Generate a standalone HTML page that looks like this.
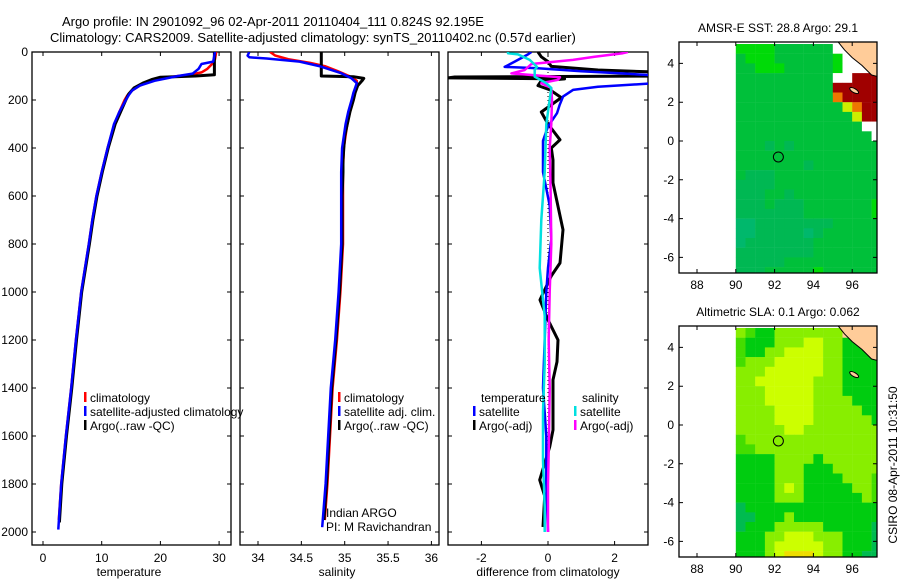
<!DOCTYPE html>
<html><head><meta charset="utf-8"><title>Argo profile</title>
<style>
html,body{margin:0;padding:0;background:#fff;}
svg{display:block;font-family:"Liberation Sans",Arial,sans-serif;}
text{font-size:12px;fill:#000;}
</style></head>
<body>
<svg id="chart" width="900" height="580" viewBox="0 0 900 580" xmlns="http://www.w3.org/2000/svg">
<defs>
<clipPath id="cp1"><rect x="32" y="52" width="199" height="493"/></clipPath>
<clipPath id="cp2"><rect x="240" y="52" width="199" height="493"/></clipPath>
<clipPath id="cp3"><rect x="448" y="52" width="200" height="493"/></clipPath>
<clipPath id="cm1"><rect x="679" y="42" width="198" height="231"/></clipPath>
<clipPath id="cm2"><rect x="679" y="326" width="198" height="231"/></clipPath>
</defs>
<text x="62" y="26" style="font-size:13px">Argo profile: IN 2901092_96 02-Apr-2011 20110404_111 0.824S 92.195E</text>
<text x="50" y="42" style="font-size:13px">Climatology: CARS2009. Satellite-adjusted climatology: synTS_20110402.nc (0.57d earlier)</text>
<text x="778" y="32" text-anchor="middle">AMSR-E SST: 28.8 Argo: 29.1</text>
<text x="778" y="316" text-anchor="middle">Altimetric SLA: 0.1 Argo: 0.062</text>
<text transform="translate(897,465) rotate(-90)" text-anchor="middle">CSIRO 08-Apr-2011 10:31:50</text>
<g id="g"></g>
</svg>
<script>
// ---------- data ----------
const depthTicks = [0,200,400,600,800,1000,1200,1400,1600,1800,2000];
const tempTicks = [0,10,20,30];
const salTicks = [34,34.5,35,35.5,36];
const diffTicks = [-2,0,2];
const lonTicks = [88,90,92,94,96];
const latTicks = [-6,-4,-2,0,2,4];

const climTDepth = [0,30,50,70,85,95,100,110,120,140,160,180,200,250,300,400,500,600,700,800,1000,1200,1400,1600,1800,1950];
const climT = [29.5,29.3,28.8,28,27,25,23,20,18.3,16.5,15.2,14.4,13.9,13,12.2,11,10,9.1,8.4,7.8,6.5,5.6,4.8,3.9,3.1,2.7];
const satTDepth = [0,40,50,70,90,100,110,120,140,160,180,200,250,300,400,500,600,700,800,1000,1200,1400,1600,1800,1990];
const satT = [29.3,29.0,27,26.5,25.5,23,21,19,16.5,15.2,14.6,14.1,13,12.1,11.0,10.0,9.1,8.4,7.8,6.5,5.6,4.8,3.9,3.1,2.6];
const argoTDepth = [0,95,100,105,115,130,150,175,200,250,300,400,500,600,700,800,1000,1200,1400,1600,1800,1960];
const argoT = [29.2,29.2,26,20,18.5,17,15.5,14.6,14.1,13.2,12.3,11.1,10.1,9.2,8.5,7.9,6.6,5.7,4.9,4.0,3.2,2.8];

const climSDepth = [0,15,30,45,60,80,100,120,140,170,200,250,300,400,500,600,800,1000,1200,1400,1600,1800,1950];
const climS = [34.14,34.2,34.35,34.6,34.78,34.92,35.05,35.14,35.14,35.12,35.1,35.06,35.03,34.99,34.98,34.98,34.98,34.95,34.91,34.86,34.83,34.8,34.77];
const satSDepth = [0,15,22,27,40,60,87,110,130,170,200,250,300,400,500,600,800,1000,1200,1400,1600,1800,1980];
const satS = [33.9,33.88,33.9,34.1,34.48,34.72,34.95,35.08,35.14,35.1,35.08,35.04,35.01,34.97,34.96,34.96,34.96,34.93,34.89,34.84,34.81,34.78,34.74];
const argoSDepth = [0,100,103,110,120,140,170,200,250,300,350,400,450,500,600,800,1000,1200,1400,1600,1800,1950];
const argoS = [34.73,34.73,35.1,35.22,35.2,35.15,35.12,35.1,35.06,35.03,35.0,34.99,34.98,34.98,34.97,34.97,34.94,34.9,34.85,34.82,34.79,34.76];

const dTSatDepth = [0,10,25,40,55,62,68,80,89,100,115,130,145,158,186,220,255,310,370,500,640,780,900,1000,1200,1400,1600,1800,2000];
const dTSat = [-0.5,-0.6,-0.8,-1.0,-1.2,-1.3,-0.3,1.0,2.2,3.5,3.5,3.2,1.5,0.75,0.45,0.35,0.27,0.0,-0.15,-0.15,0.05,0.1,0.0,-0.05,-0.1,-0.15,-0.05,-0.05,0.0];
const dTArgoDepth = [0,20,40,60,75,85,95,100,104,108,112,120,140,158,190,200,250,300,366,400,450,545,643,741,879,933,1033,1116,1200,1291,1366,1575,1645,1783,1850,1979];
const dTArgo = [-0.3,-0.2,0.0,0.1,1.5,3.5,3.5,3.5,-2.8,-3.0,0.5,-0.2,-0.3,0.06,0.4,0.3,-0.2,0.0,0.36,0.1,0.15,0.15,0.3,0.45,0.36,0.1,-0.24,0.0,0.3,0.27,0.15,0.15,0.05,-0.25,-0.1,-0.15];
const dSArgoDepth = [0,5,20,33,50,75,89,97,105,116,130,150,200,300,400,600,800,1000,1200,1400,1600,1800,2000];
const dSArgo = [2.4,2.25,1.4,0.75,-0.5,-0.7,-1.1,-0.4,0.36,0.3,-0.2,0.1,0.12,0.1,0.05,0.08,0.1,0.05,0.02,0.05,0.03,0.0,0.0];
const dSSatDepth = [0,5,10,33,62,75,103,130,150,300,500,700,900,1100,1300,1500,1700,1900,2000];
const dSSat = [-1.2,-1.2,-0.9,-0.55,-0.33,-0.4,-0.4,-0.05,0.1,-0.05,-0.1,-0.2,-0.25,-0.1,-0.1,-0.15,-0.15,-0.1,-0.1];

// map grids: 0.5 deg cells, lon 90..97.5 (15 cols), lat 5 down to -7 (24 rows)
const sstRows = ["bbbbaaaaaawwlll","abbbaaaaaabwwwl","aabbbaaaaabwwwl","aaaaaaaaaawwrrr","aaaaaaaaaarrrrr","aaaaaaaaaaorrrr","aaaaaaaaaaayorr","aaaaaaaaaaaayrr","aaaaaaaaaaaaaww","aaaaaaaaaaaaaaw","aaacacaaaaaaaaa","aaaaaaaaaaaaaaa","aaaaaaacaaaaaaa","acccaaaaaaaaaaa","ccccaaaaaaaaaaa","cccaacaaaaaaaaa","cccacccaaaaaaab","cccccccaaaaaaab","ddccccccccaaaaa","ddcccccdcaaaaaa","dcccccccaaaaaaa","ccccccccaaaaaaa","cccccaaaaaaaaaa","cccaaaaabaaaaaa"];
const slaRows = ["hgGGhhhhhhhllll","gGGGhhhyyhhGGll","gGGhhyyyyhhGGGl","ghhhyyyyyhhGGGG","hhhyyyyyyhhGGGG","hhyyyyyyhhhGGGG","hhhyyyyyhhhGGGG","hhhyyyyyhhhhGGG","hhhhyyyyhhhhhGG","hhhhyyyyhhhhhhG","hhhhhyyhhhhhhhh","ghhhhhhhhhhhhhh","gghhhhhhhhhhhhh","GGGGhhhhGhhhhhh","GGGGhhhGGGhhhhh","GGGGhhhGGGGhhhg","GGGGhyhGGGGGhhg","GGGGhhhGGGGGGhg","tGGGGGGGGGGGGGG","ttGGGhGGGGGGGGG","tGGGhhhhhGGGGGt","GGGhhyyyhhhGGGt","GGGhyyyyyhhGGGt","GGGhyoooyhhGGtt"];
const floatLon = 92.195;
const floatLat = -0.824;

// ---------- helpers ----------
const NS = "http://www.w3.org/2000/svg";
const G = document.getElementById('g');
function mk(tag, attrs, parent){ const e=document.createElementNS(NS,tag); for(const k in attrs) e.setAttribute(k,attrs[k]); (parent||G).appendChild(e); return e; }
const yD = d => 52 + d*0.24;
const xT = v => 43 + v*5.87;
const xS = v => 258 + (v-34)*86.7;
const xDf = v => 548 + v*33.3;
const xLon = lon => 697 + (lon-88)*19.4;
const yLat1 = lat => 141 - lat*19.4;
const yLat2 = lat => 425 - lat*19.4;

function frame(x0,y0,w,h,name){
  const r = mk('rect',{x:x0,y:y0,width:w,height:h,fill:'none',stroke:'#000','stroke-width':1.3});
  
  
}
function profilePanel(x0,w,xs,ticks,name,label,labelX){
  frame(x0,52,w,493,name+'-frame');
  depthTicks.forEach(d=>{
    const y=yD(d);
    const t=mk('path',{d:`M${x0},${y}h4M${x0+w},${y}h-4`,stroke:'#000','stroke-width':1});
    
    
  });
  ticks.forEach(v=>{
    const x=xs(v);
    const t=mk('path',{d:`M${x},545v-4M${x},52v4`,stroke:'#000','stroke-width':1});
    
    
    const tl=mk('text',{x:x,y:562,'text-anchor':'middle'});
    tl.textContent=String(v);
    
    
  });
  const lab=mk('text',{x:labelX,y:576,'text-anchor':'middle'});
  lab.textContent=label;
  
  
}
function series(depths,vals,xs,color,width,clip,name){
  const pts=depths.map((d,i)=>xs(vals[i]).toFixed(1)+','+yD(d).toFixed(1)).join(' ');
  const p=mk('polyline',{points:pts,fill:'none',stroke:color,'stroke-width':width,'stroke-linejoin':'round','clip-path':`url(#${clip})`});
  
  
}
function legendEntry(x,y,color,label,name){
  const b=mk('rect',{x:x,y:y-10,width:2.5,height:10,fill:color});
  
  
  const t=mk('text',{x:x+6,y:y});
  t.textContent=label;
  
  
}

// ---------- depth axis labels ----------
depthTicks.forEach(d=>{
  const t=mk('text',{x:28,y:yD(d)+4,'text-anchor':'end'});
  t.textContent=String(d);
  
  
});

// ---------- panel 1: temperature ----------
profilePanel(32,199,xT,tempTicks,'temperature-panel','temperature',129);
series(climTDepth,climT,xT,'#ff0000',2.5,'cp1','temperature-climatology-line');
series(argoTDepth,argoT,xT,'#000000',3,'cp1','temperature-argo-line');
series(satTDepth,satT,xT,'#0000ff',2.5,'cp1','temperature-satellite-line');
legendEntry(84,402,'#ff0000','climatology','temp-legend-climatology');
legendEntry(84,416,'#0000ff','satellite-adjusted climatology','temp-legend-satellite');
legendEntry(84,430,'#000000','Argo(..raw -QC)','temp-legend-argo');

// ---------- panel 2: salinity ----------
profilePanel(240,199,xS,salTicks,'salinity-panel','salinity',337);
series(climSDepth,climS,xS,'#ff0000',2.5,'cp2','salinity-climatology-line');
series(argoSDepth,argoS,xS,'#000000',3,'cp2','salinity-argo-line');
series(satSDepth,satS,xS,'#0000ff',2.5,'cp2','salinity-satellite-line');
// cover the legend overflow beyond the panel (text clipped at frame)
legendEntry(338,402,'#ff0000','climatology','sal-legend-climatology');
legendEntry(338,416,'#0000ff','satellite adj. clim.','sal-legend-satellite');
legendEntry(338,430,'#000000','Argo(..raw -QC)','sal-legend-argo');
const ia=mk('text',{x:326,y:517}); ia.textContent='Indian ARGO';


const pi=mk('text',{x:326,y:531}); pi.textContent='PI: M Ravichandran';



// ---------- panel 3: differences ----------
const cover=mk('rect',{x:439.7,y:380,width:7.6,height:60,fill:'#fff'});


profilePanel(448,200,xDf,diffTicks,'difference-panel','difference from climatology',548);
const zl=mk('line',{x1:xDf(0),y1:yD(0),x2:xDf(0),y2:yD(2000),stroke:'#000','stroke-width':1,'stroke-dasharray':'1,3'});


series(dTArgoDepth,dTArgo,xDf,'#000000',3,'cp3','diff-temperature-argo-line');
series(dTSatDepth,dTSat,xDf,'#0000ff',2.5,'cp3','diff-temperature-satellite-line');
series(dSArgoDepth,dSArgo,xDf,'#ff00ff',2.5,'cp3','diff-salinity-argo-line');
series(dSSatDepth,dSSat,xDf,'#00e0e0',2.5,'cp3','diff-salinity-satellite-line');
const lt=mk('text',{x:481,y:402}); lt.textContent='temperature';


const ls=mk('text',{x:582,y:402}); ls.textContent='salinity';


legendEntry(473,416,'#0000ff','satellite','diff-legend-temp-satellite');
legendEntry(473,430,'#000000','Argo(-adj)','diff-legend-temp-argo');
legendEntry(574,416,'#00e0e0','satellite','diff-legend-sal-satellite');
legendEntry(574,430,'#ff00ff','Argo(-adj)','diff-legend-sal-argo');

// ---------- maps ----------
const sstColors = {a:'#00c03a',b:'#00da08',c:'#00b853',d:'#00b86c',r:'#a00000',o:'#ee7700',y:'#ccee00',w:'#ffffff',l:'#ffcc99'};
const slaColors = {G:'#00cc10',g:'#44dd00',h:'#88ee00',y:'#ccff00',o:'#eedd00',t:'#00bb50',w:'#ffffff',l:'#ffcc99'};
function drawMap(rows,colors,yLat,top,clip,name){
  rows.forEach((row,i)=>{
    for(let j=0;j<row.length;j++){
      const lon=90+0.5*j, lat=5-0.5*i;
      const x=xLon(lon), y=yLat(lat);
      const c=mk('rect',{x:x.toFixed(1),y:y.toFixed(1),width:9.9,height:9.9,fill:colors[row[j]],'clip-path':`url(#${clip})`});
      
      
    }
  });
  const land=[[95.2,5.2],[95.6,4.7],[96,4.3],[96.5,3.9],[97.0,3.4],[97.4,3.3],[97.4,5.2]];
  const lp=mk('polygon',{points:land.map(p=>xLon(p[0])+','+yLat(p[1])).join(' '),fill:'#ffcc99',stroke:'#000','stroke-width':1,'clip-path':`url(#${clip})`});
  
  
  const isl=mk('ellipse',{cx:xLon(96.1),cy:yLat(2.6),rx:5,ry:2,fill:'#ffcc99',stroke:'#000','stroke-width':1,transform:`rotate(30 ${xLon(96.1)} ${yLat(2.6)})`});
  
  
  frame(679,top,198,231,name+'-frame');
  const bottom=top+231;
  lonTicks.forEach(v=>{
    const x=xLon(v);
    const t=mk('path',{d:`M${x},${top}v4M${x},${bottom}v-4`,stroke:'#000','stroke-width':1});
    
    
    const tl=mk('text',{x:x,y:bottom+16,'text-anchor':'middle'}); tl.textContent=String(v);
    
    
  });
  latTicks.forEach(v=>{
    const y=yLat(v);
    const t=mk('path',{d:`M679,${y}h4M877,${y}h-4`,stroke:'#000','stroke-width':1});
    
    
    const tl=mk('text',{x:674,y:y+4,'text-anchor':'end'}); tl.textContent=String(v);
    
    
  });
  const fc=mk('circle',{cx:xLon(floatLon),cy:yLat(floatLat),r:5,fill:'none',stroke:'#000','stroke-width':1});
  
  
}
drawMap(sstRows,sstColors,yLat1,42,'cm1','sst-map');
drawMap(slaRows,slaColors,yLat2,326,'cm2','sla-map');
</script>
</body></html>
